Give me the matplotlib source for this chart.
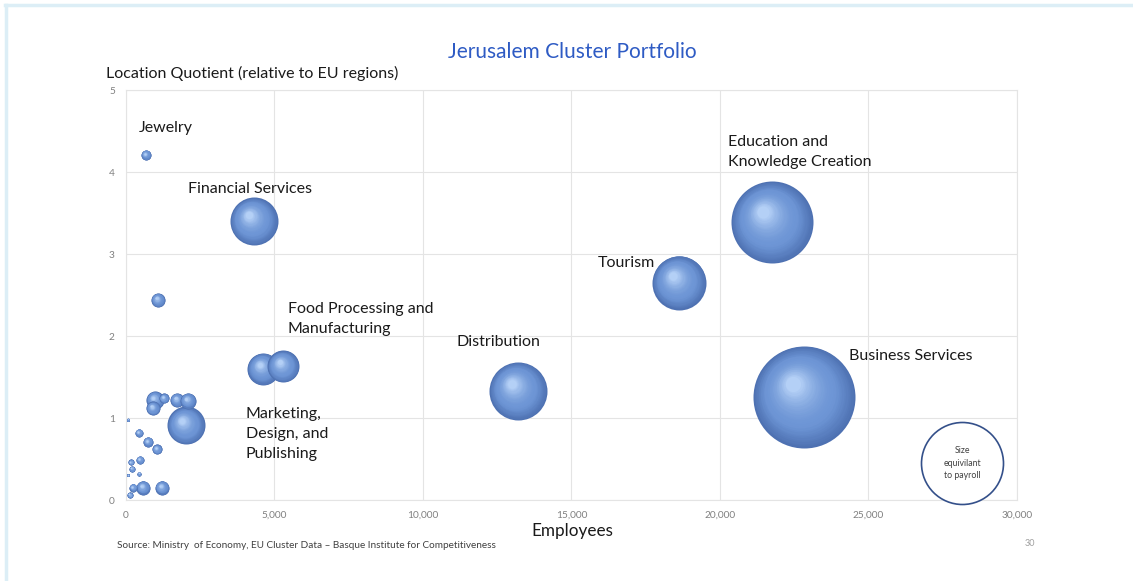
import numpy as np
import matplotlib
matplotlib.use("Agg")
import matplotlib.pyplot as plt
from matplotlib.lines import Line2D
from matplotlib.transforms import offset_copy
from matplotlib.colors import to_rgb
from matplotlib.ticker import FuncFormatter

plt.rcParams['font.family'] = ['Lato', 'DejaVu Sans']

# data: employees, location quotient, payroll (relative units)
employees = [673, 4310, 1077, 4613, 5286, 13199, 18620, 21750, 22830, 2020,
             976, 1279, 1717, 2088, 909, 67, 438, 741, 1044, 471,
             168, 202, 438, 67, 572, 1212, 236, 135]
location_quotient = [4.21, 3.40, 2.44, 1.60, 1.63, 1.33, 2.65, 3.39, 1.26, 0.91,
                     1.22, 1.24, 1.22, 1.21, 1.12, 0.98, 0.82, 0.71, 0.62, 0.49,
                     0.46, 0.38, 0.32, 0.30, 0.15, 0.15, 0.15, 0.06]
payroll = [25, 576, 49, 256, 256, 841, 729, 1681, 2601, 361,
           81, 25, 49, 64, 49, 2, 16, 25, 25, 16,
           9, 9, 4, 2, 49, 49, 16, 9]

labels = ["Jewelry", "Financial Services", "Food Processing and\nManufacturing",
          "Marketing,\nDesign, and\nPublishing", "Distribution", "Tourism",
          "Education and\nKnowledge Creation", "Business Services"]
label_x = [440, 2090, 5450, 4040, 11140, 15890, 20270, 24340]
label_y = [4.54, 3.79, 2.21, 0.80, 1.93, 2.89, 4.24, 1.76]

x_ticks = [0, 5000, 10000, 15000, 20000, 25000, 30000]
y_ticks = [0, 1, 2, 3, 4, 5]

fig = plt.figure(figsize=(11.33, 5.81), dpi=100)
ax = fig.add_axes([0.1112, 0.1394, 0.7864, 0.7056])

# light blue slide frame
fig.add_artist(Line2D([6 / 1133, 6 / 1133], [0, 576 / 581], transform=fig.transFigure,
                      color='#DCEEF6', lw=2.5))
fig.add_artist(Line2D([5 / 1133, 1], [576 / 581, 576 / 581], transform=fig.transFigure,
                      color='#DCEEF6', lw=2.5))

ax.set_xlim(0, 30000)
ax.set_ylim(0, 5)
ax.set_xticks(x_ticks)
ax.set_yticks(y_ticks)
ax.xaxis.set_major_formatter(FuncFormatter(lambda v, p: f"{int(v):,}"))
ax.tick_params(length=0, labelsize=7.3, labelcolor='#808080', pad=8)
ax.grid(True, color='#E4E4E4', lw=0.8)
ax.set_axisbelow(True)
for s in ax.spines.values():
    s.set_color('#E4E4E4')
    s.set_linewidth(0.8)

# shaded "sphere" bubbles
edge_c = np.array(to_rgb('#4E71B2'))
mid_c = np.array(to_rgb('#6D95D5'))
hi_c = np.array(to_rgb('#B4D0F6'))
px_to_pt = 72 / fig.dpi
n_layers = 30
for x, y, p in zip(employees, location_quotient, payroll):
    r_pt = np.sqrt(p) * px_to_pt
    for k in range(n_layers):
        t = k / (n_layers - 1)
        f = 1 - 0.85 * t
        if t < 0.35:
            c = edge_c + (mid_c - edge_c) * (t / 0.35)
        else:
            c = mid_c + (hi_c - mid_c) * ((t - 0.35) / 0.65) ** 1.8
        dx = -(1 - f) * r_pt * 0.25
        dy = (1 - f) * r_pt * 0.30
        tr = offset_copy(ax.transData, fig=fig, x=dx, y=dy, units='points')
        ax.scatter([x], [y], s=(2 * r_pt * f) ** 2, color=c, lw=0,
                   transform=tr, zorder=3)

for txt, lx, ly in zip(labels, label_x, label_y):
    ax.text(lx, ly, txt, fontsize=11.5, ha='left', va='center', color='#1A1A1A',
            linespacing=1.55, zorder=5)

# size legend circle
ax.scatter([28150], [0.45], s=(2 * 41 * px_to_pt) ** 2, facecolor='white',
           edgecolor='#34508A', lw=1.2, zorder=4, clip_on=False)
ax.text(28150, 0.45, "Size\nequivilant\nto payroll", fontsize=6.3, ha='center',
        va='center', color='#404040', linespacing=1.5, zorder=5)

fig.text(572 / 1133, 1 - 52 / 581, "Jerusalem Cluster Portfolio", fontsize=15,
         color='#2E5BC4', ha='center', va='center')
fig.text(106 / 1133, 1 - 73 / 581, "Location Quotient (relative to EU regions)",
         fontsize=11.5, color='#1A1A1A', ha='left', va='center')
fig.text(572 / 1133, 1 - 531 / 581, "Employees", fontsize=12.3, color='#1A1A1A',
         ha='center', va='center')
fig.text(117 / 1133, 1 - 545 / 581,
         "Source: Ministry  of Economy, EU Cluster Data \u2013 Basque Institute for Competitiveness",
         fontsize=7.2, color='#404040', ha='left', va='center')
fig.text(1030 / 1133, 1 - 543 / 581, "30", fontsize=6.5, color='#A0A0A0',
         ha='center', va='center')

fig.savefig("out.png", dpi=100, facecolor='white')
